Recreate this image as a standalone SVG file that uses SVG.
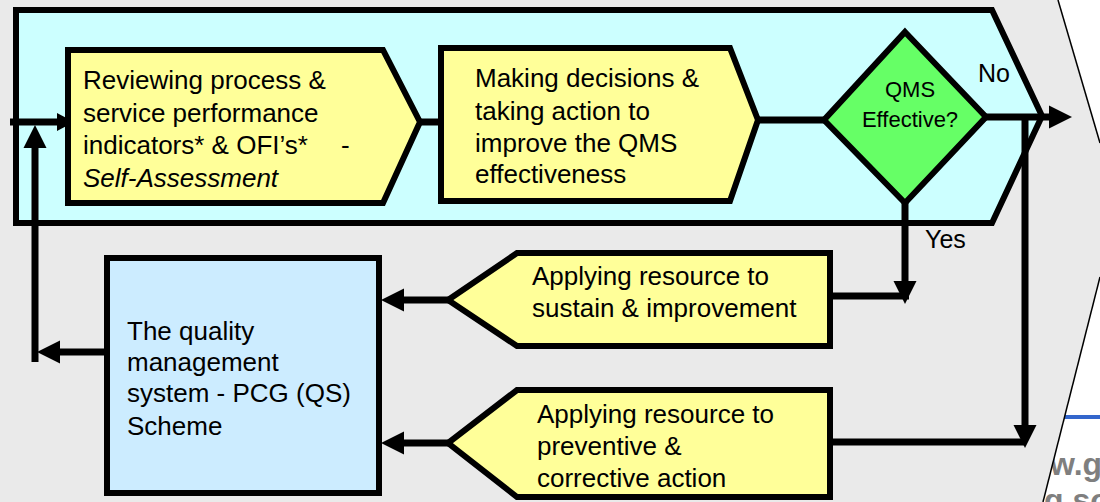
<svg xmlns="http://www.w3.org/2000/svg" width="1100" height="502" viewBox="0 0 1100 502">
<defs>
<style>
.t{font-family:"Liberation Sans",Arial,sans-serif;font-size:26px;fill:#000}
.box{stroke:#000;stroke-width:6;stroke-linejoin:miter}
.y{fill:#FFFF99}
.ln{fill:none;stroke:#000;stroke-width:7}
.wm{font-family:"Liberation Sans",Arial,sans-serif;font-size:32px;font-weight:bold;fill:#7F7F7F}
</style>
<marker id="ah" markerUnits="userSpaceOnUse" viewBox="0 -12 24 24" markerWidth="24" markerHeight="24" refX="0" refY="0" orient="auto">
<path d="M0,-11.5 L23,0 L0,11.5 Z" fill="#000"/>
</marker>
<marker id="ahs" markerUnits="userSpaceOnUse" viewBox="0 -10 18 20" markerWidth="18" markerHeight="20" refX="0" refY="0" orient="auto">
<path d="M0,-9 L17,0 L0,9 Z" fill="#000"/>
</marker>
</defs>
<rect x="0" y="0" width="1100" height="502" fill="#FFFFFF"/>
<g id="watermark">
<line x1="1060" y1="417" x2="1100" y2="417" stroke="#3366CC" stroke-width="4"/>
<text class="wm" x="1050" y="475">w.gu</text>
<text class="wm" x="1044" y="511">g.so</text>
</g>
<g id="background">
<polygon points="0,0 1058,0 1100,143 1100,277 1043,502 0,502" fill="#EAEAEA"/>
<polyline points="1058,0 1100,143" fill="none" stroke="#000" stroke-width="1.5"/>
<polyline points="1100,277 1043,502" fill="none" stroke="#000" stroke-width="1.5"/>
</g>
<g id="container">
<polygon points="16,10 992,10 1042,116 992,223 16,223" fill="#CCFFFF" stroke="#000" stroke-width="6"/>
</g>
<g id="connectors">
<path class="ln" d="M10,122 H57" marker-end="url(#ahs)"/>
<path class="ln" d="M418,122 H443"/>
<path class="ln" d="M756,120 H826"/>
<path class="ln" d="M984,117 H1049" marker-end="url(#ah)"/>
<path class="ln" d="M1025,114 V425" marker-end="url(#ah)"/>
<path class="ln" d="M830,442 H1026"/>
<path class="ln" d="M905,200 V281" marker-end="url(#ah)"/>
<path class="ln" d="M830,296 H909"/>
<path class="ln" d="M450,300 H404" marker-end="url(#ah)"/>
<path class="ln" d="M450,443 H404" marker-end="url(#ah)"/>
<path class="ln" d="M107,352 H60" marker-end="url(#ah)"/>
<path class="ln" d="M35,362 V148" marker-end="url(#ah)"/>
</g>
<g id="review">
<polygon class="box y" points="68,50 383,50 420,122 383,203 68,203"/>
<text class="t" x="83" y="89"><tspan x="83">Reviewing process &amp;</tspan><tspan x="83" y="122">service performance</tspan><tspan x="83" y="154">indicators* &amp; OFI’s*</tspan><tspan x="341" y="154">-</tspan><tspan x="83" y="187" font-style="italic">Self-Assessment</tspan></text>
</g>
<g id="decide">
<polygon class="box y" points="441,48 730,48 758,120 730,201 441,201"/>
<text class="t" x="475" y="87"><tspan x="475">Making decisions &amp;</tspan><tspan x="475" y="120">taking action to</tspan><tspan x="475" y="152">improve the QMS</tspan><tspan x="475" y="183">effectiveness</tspan></text>
</g>
<g id="qms">
<polygon points="905,32 986,117 905,203 824,120" fill="#66FF66" stroke="#000" stroke-width="6"/>
<text class="t" style="font-size:22px" text-anchor="middle" x="910" y="97"><tspan x="910">QMS</tspan><tspan x="910" y="127">Effective?</tspan></text>
</g>
<g id="labels">
<text class="t" style="font-size:25px" x="978" y="82">No</text>
<text class="t" style="font-size:25px" x="925" y="248">Yes</text>
</g>
<g id="sustain">
<polygon class="box y" points="830,253 517,253 448,300 517,346 830,346"/>
<text class="t" x="532" y="285"><tspan x="532">Applying resource to</tspan><tspan x="532" y="317">sustain &amp; improvement</tspan></text>
</g>
<g id="preventive">
<polygon class="box y" points="830,390 517,390 448,443 517,497 830,497"/>
<text class="t" x="537" y="423"><tspan x="537">Applying resource to</tspan><tspan x="537" y="455">preventive &amp;</tspan><tspan x="537" y="487">corrective action</tspan></text>
</g>
<g id="qs">
<rect class="box" x="107" y="258" width="272" height="235" fill="#CCECFF"/>
<text class="t" x="127" y="340"><tspan x="127">The quality</tspan><tspan x="127" y="371">management</tspan><tspan x="127" y="402">system - PCG (QS)</tspan><tspan x="127" y="435">Scheme</tspan></text>
</g>
</svg>
